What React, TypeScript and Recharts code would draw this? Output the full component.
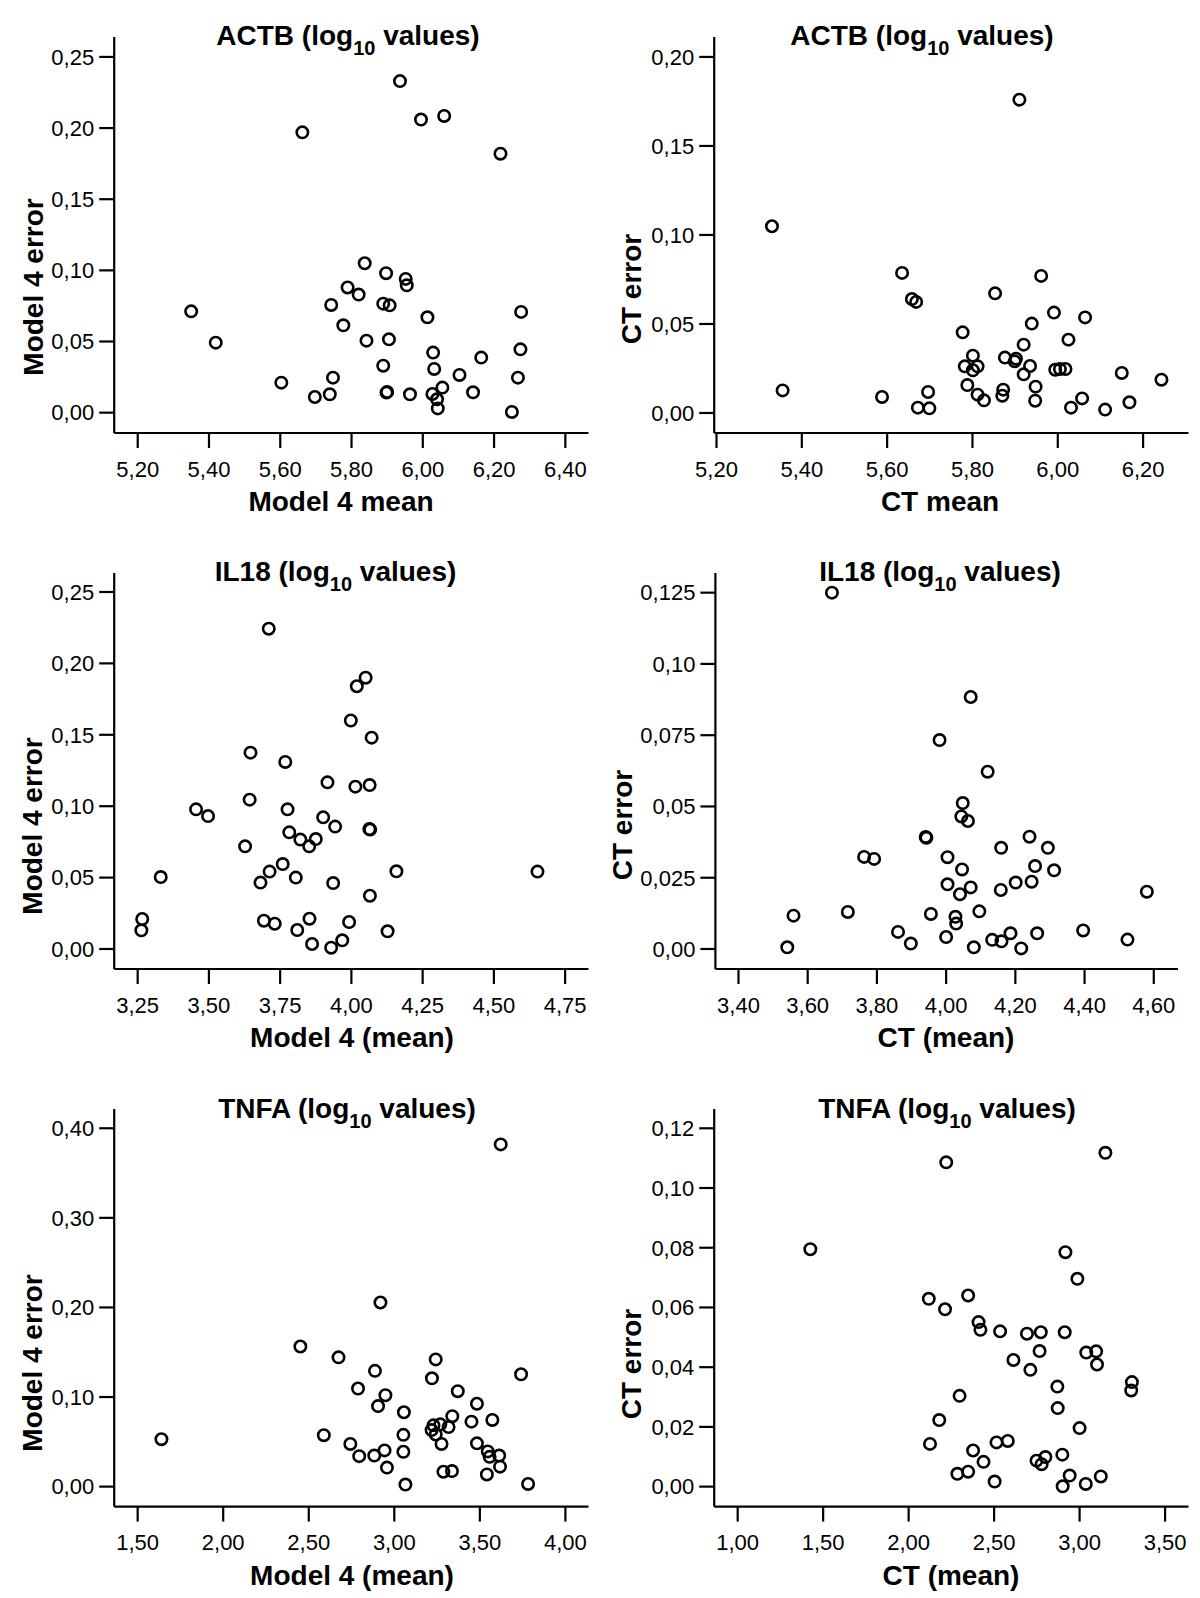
import React from 'react';
import { ScatterChart, Scatter, XAxis, YAxis } from 'recharts';

const FONT = '"Liberation Sans", Arial, Helvetica, sans-serif';

// ---------- ACTB : Model 4 ----------
const actbModel4Mean = [5.936, 5.995, 6.06, 5.662, 6.218, 5.837, 5.897, 5.952, 5.955, 5.789, 5.82, 5.743, 5.889, 5.907, 5.35, 6.276, 6.013, 5.777, 5.419, 5.842, 5.905, 6.274, 6.029, 6.164, 5.889, 6.032, 6.103, 5.748, 6.267, 5.603, 6.055, 6.141, 5.898, 5.9, 5.964, 5.739, 5.697, 6.027, 6.04, 6.042, 6.25];
const actbModel4Error = [0.233, 0.206, 0.2085, 0.197, 0.182, 0.105, 0.098, 0.094, 0.0895, 0.088, 0.083, 0.0757, 0.0766, 0.0754, 0.0712, 0.0708, 0.067, 0.0614, 0.0492, 0.0506, 0.0515, 0.0445, 0.0422, 0.0387, 0.033, 0.0307, 0.0265, 0.0246, 0.0246, 0.0211, 0.0176, 0.0143, 0.0141, 0.0146, 0.0129, 0.0129, 0.011, 0.0131, 0.0094, 0.003, 0.0005];

// ---------- ACTB : CT ----------
const actbCtMean = [5.91, 5.33, 5.635, 5.961, 5.853, 5.658, 5.668, 5.991, 6.064, 5.939, 5.777, 6.025, 5.92, 5.801, 5.876, 5.902, 5.899, 5.782, 5.812, 5.935, 5.801, 5.994, 6.005, 6.018, 6.15, 5.92, 6.243, 5.788, 5.948, 5.355, 5.696, 5.872, 5.87, 5.812, 5.588, 6.057, 5.827, 5.947, 6.168, 5.672, 5.699, 6.031, 6.111];
const actbCtError = [0.176, 0.1049, 0.0787, 0.077, 0.0672, 0.064, 0.0624, 0.0564, 0.0537, 0.0502, 0.0453, 0.0412, 0.0384, 0.0322, 0.0311, 0.0305, 0.029, 0.0262, 0.0262, 0.0264, 0.024, 0.0243, 0.0247, 0.0247, 0.0225, 0.0217, 0.0187, 0.0157, 0.0148, 0.0127, 0.0118, 0.0131, 0.0097, 0.0103, 0.009, 0.0082, 0.0071, 0.0069, 0.006, 0.003, 0.0026, 0.003, 0.0019];

// ---------- IL18 : Model 4 ----------
const il18Model4Mean = [3.71, 4.05, 4.019, 3.998, 4.071, 3.646, 3.768, 3.916, 4.014, 4.064, 3.643, 3.455, 3.497, 3.776, 3.901, 3.943, 4.063, 4.066, 3.782, 3.821, 3.875, 3.852, 3.627, 3.759, 3.713, 4.158, 4.653, 3.331, 3.805, 3.681, 3.936, 4.065, 3.266, 3.263, 3.853, 3.693, 3.731, 3.992, 3.81, 4.127, 3.968, 3.862, 3.929];
const il18Model4Error = [0.2243, 0.19, 0.184, 0.16, 0.148, 0.1375, 0.131, 0.1167, 0.1137, 0.1148, 0.1046, 0.0978, 0.0931, 0.0978, 0.0922, 0.0857, 0.084, 0.0836, 0.0817, 0.0766, 0.077, 0.0719, 0.0719, 0.0595, 0.0542, 0.0544, 0.0542, 0.0504, 0.05, 0.0465, 0.0462, 0.0373, 0.021, 0.0131, 0.0212, 0.0198, 0.0177, 0.0189, 0.0133, 0.0124, 0.0061, 0.0035, 0.0009];

// ---------- IL18 : CT ----------
const il18CtMean = [3.67, 4.071, 3.981, 4.12, 4.048, 4.044, 4.063, 3.941, 3.943, 4.241, 4.159, 4.294, 3.763, 3.792, 4.004, 4.046, 4.257, 4.312, 4.004, 4.201, 4.247, 4.071, 4.158, 4.04, 4.58, 3.559, 3.716, 3.956, 4.096, 4.027, 4.029, 3.861, 4.396, 4.186, 4.263, 4.0, 4.133, 4.16, 4.524, 3.898, 3.541, 4.08, 4.217];
const il18CtError = [0.125, 0.0884, 0.0733, 0.0622, 0.0512, 0.0465, 0.0449, 0.0393, 0.039, 0.0394, 0.0355, 0.0355, 0.0323, 0.0316, 0.0322, 0.0279, 0.0291, 0.0276, 0.0227, 0.0233, 0.0236, 0.0216, 0.0207, 0.0192, 0.0201, 0.0117, 0.013, 0.0123, 0.0132, 0.0113, 0.0089, 0.006, 0.0065, 0.0055, 0.0055, 0.0042, 0.0032, 0.0027, 0.0033, 0.0019, 0.0006, 0.0006, 0.0002];

// ---------- TNFA : Model 4 ----------
const tnfaModel4Mean = [3.622, 2.919, 2.451, 2.674, 3.242, 2.887, 3.741, 3.22, 2.788, 3.371, 2.948, 3.483, 2.905, 3.056, 3.339, 3.573, 3.451, 3.229, 3.269, 3.317, 3.218, 3.242, 2.588, 3.053, 1.639, 2.743, 3.276, 3.483, 3.546, 2.943, 3.053, 2.795, 2.883, 3.613, 3.557, 3.618, 2.957, 3.287, 3.337, 3.541, 3.065, 3.782];
const tnfaModel4Error = [0.382, 0.2055, 0.1564, 0.1443, 0.142, 0.1292, 0.1254, 0.1209, 0.1095, 0.1065, 0.102, 0.0925, 0.0899, 0.083, 0.0786, 0.0744, 0.0725, 0.0684, 0.0695, 0.0665, 0.0631, 0.0582, 0.0574, 0.0578, 0.0529, 0.0476, 0.0476, 0.0483, 0.0393, 0.0404, 0.0389, 0.034, 0.0347, 0.0347, 0.0332, 0.0223, 0.0212, 0.0166, 0.0174, 0.0136, 0.0023, 0.003];

// ---------- TNFA : CT ----------
const tnfaCtMean = [3.151, 2.22, 1.425, 2.917, 2.987, 2.348, 2.118, 2.213, 2.409, 2.42, 2.535, 2.692, 2.773, 2.913, 2.766, 3.039, 3.097, 2.613, 3.102, 2.712, 3.306, 3.302, 2.87, 2.298, 2.872, 2.179, 3.0, 2.58, 2.514, 2.125, 2.377, 2.899, 2.8, 2.748, 2.778, 2.438, 2.348, 2.285, 2.942, 3.124, 2.503, 3.036, 2.901];
const tnfaCtError = [0.1118, 0.1086, 0.0795, 0.0785, 0.0696, 0.064, 0.0629, 0.0594, 0.0551, 0.0525, 0.052, 0.0512, 0.0517, 0.0517, 0.0454, 0.0449, 0.0453, 0.0424, 0.0409, 0.0391, 0.035, 0.0322, 0.0335, 0.0304, 0.0263, 0.0223, 0.0196, 0.0153, 0.0148, 0.0143, 0.0121, 0.0107, 0.0099, 0.0087, 0.0075, 0.0083, 0.005, 0.0043, 0.0037, 0.0034, 0.0017, 0.0009, 0.0001];

// ---------- Tick values and labels ----------
const actbModelXTicks = [5.2, 5.4, 5.6, 5.8, 6.0, 6.2, 6.4];
const actbModelXLabels = ['5,20', '5,40', '5,60', '5,80', '6,00', '6,20', '6,40'];
const actbModelYTicks = [0, 0.05, 0.1, 0.15, 0.2, 0.25];
const actbModelYLabels = ['0,00', '0,05', '0,10', '0,15', '0,20', '0,25'];

const actbCtXTicks = [5.2, 5.4, 5.6, 5.8, 6.0, 6.2];
const actbCtXLabels = ['5,20', '5,40', '5,60', '5,80', '6,00', '6,20'];
const actbCtYTicks = [0, 0.05, 0.1, 0.15, 0.2];
const actbCtYLabels = ['0,00', '0,05', '0,10', '0,15', '0,20'];

const il18ModelXTicks = [3.25, 3.5, 3.75, 4.0, 4.25, 4.5, 4.75];
const il18ModelXLabels = ['3,25', '3,50', '3,75', '4,00', '4,25', '4,50', '4,75'];
const il18ModelYTicks = [0, 0.05, 0.1, 0.15, 0.2, 0.25];
const il18ModelYLabels = ['0,00', '0,05', '0,10', '0,15', '0,20', '0,25'];

const il18CtXTicks = [3.4, 3.6, 3.8, 4.0, 4.2, 4.4, 4.6];
const il18CtXLabels = ['3,40', '3,60', '3,80', '4,00', '4,20', '4,40', '4,60'];
const il18CtYTicks = [0, 0.025, 0.05, 0.075, 0.1, 0.125];
const il18CtYLabels = ['0,00', '0,025', '0,05', '0,075', '0,10', '0,125'];

const tnfaModelXTicks = [1.5, 2.0, 2.5, 3.0, 3.5, 4.0];
const tnfaModelXLabels = ['1,50', '2,00', '2,50', '3,00', '3,50', '4,00'];
const tnfaModelYTicks = [0, 0.1, 0.2, 0.3, 0.4];
const tnfaModelYLabels = ['0,00', '0,10', '0,20', '0,30', '0,40'];

const tnfaCtXTicks = [1.0, 1.5, 2.0, 2.5, 3.0, 3.5];
const tnfaCtXLabels = ['1,00', '1,50', '2,00', '2,50', '3,00', '3,50'];
const tnfaCtYTicks = [0, 0.02, 0.04, 0.06, 0.08, 0.1, 0.12];
const tnfaCtYLabels = ['0,00', '0,02', '0,04', '0,06', '0,08', '0,10', '0,12'];

type Panel = {
  gene: string;
  xLabel: string;
  yLabel: string;
  xs: number[];
  ys: number[];
  xDomain: [number, number];
  yDomain: [number, number];
  xTicks: number[];
  xTickLabels: string[];
  yTicks: number[];
  yTickLabels: string[];
  ox: number; // panel origin x
  L: number; T: number; R: number; B: number; // plot rect (page px)
  titleX: number;
  xLabelX: number;
  yLabelX: number;
  yLabelY: number;
};

const panels: Panel[] = [
  {
    gene: 'ACTB', xLabel: 'Model 4 mean', yLabel: 'Model 4 error',
    xs: actbModel4Mean, ys: actbModel4Error,
    xDomain: [5.134, 6.465], yDomain: [-0.0143, 0.264],
    xTicks: actbModelXTicks, xTickLabels: actbModelXLabels, yTicks: actbModelYTicks, yTickLabels: actbModelYLabels,
    ox: 0, L: 114.2, T: 36.7, R: 588.5, B: 432.7,
    titleX: 348, xLabelX: 341, yLabelX: 43, yLabelY: 287,
  },
  {
    gene: 'ACTB', xLabel: 'CT mean', yLabel: 'CT error',
    xs: actbCtMean, ys: actbCtError,
    xDomain: [5.1946, 6.3064], yDomain: [-0.01124, 0.2112],
    xTicks: actbCtXTicks, xTickLabels: actbCtXLabels, yTicks: actbCtYTicks, yTickLabels: actbCtYLabels,
    ox: 600, L: 714.2, T: 36.7, R: 1188.5, B: 432.7,
    titleX: 922, xLabelX: 940, yLabelX: 641, yLabelY: 289,
  },
  {
    gene: 'IL18', xLabel: 'Model 4 (mean)', yLabel: 'Model 4 error',
    xs: il18Model4Mean, ys: il18Model4Error,
    xDomain: [3.1677, 4.832], yDomain: [-0.014, 0.2633],
    xTicks: il18ModelXTicks, xTickLabels: il18ModelXLabels, yTicks: il18ModelYTicks, yTickLabels: il18ModelYLabels,
    ox: 0, L: 114.2, T: 572.7, R: 588.5, B: 968.7,
    titleX: 335.5, xLabelX: 352, yLabelX: 42, yLabelY: 826,
  },
  {
    gene: 'IL18', xLabel: 'CT (mean)', yLabel: 'CT error',
    xs: il18CtMean, ys: il18CtError,
    xDomain: [3.3333, 4.67], yDomain: [-0.00702, 0.1319],
    xTicks: il18CtXTicks, xTickLabels: il18CtXLabels, yTicks: il18CtYTicks, yTickLabels: il18CtYLabels,
    ox: 600, L: 715.4, T: 572.7, R: 1178, B: 968.7,
    titleX: 940, xLabelX: 946, yLabelX: 632, yLabelY: 825,
  },
  {
    gene: 'TNFA', xLabel: 'Model 4 (mean)', yLabel: 'Model 4 error',
    xs: tnfaModel4Mean, ys: tnfaModel4Error,
    xDomain: [1.3629, 4.135], yDomain: [-0.0223, 0.4215],
    xTicks: tnfaModelXTicks, xTickLabels: tnfaModelXLabels, yTicks: tnfaModelYTicks, yTickLabels: tnfaModelYLabels,
    ox: 0, L: 114.2, T: 1108.9, R: 588.5, B: 1506.5,
    titleX: 347, xLabelX: 352, yLabelX: 42, yLabelY: 1363,
  },
  {
    gene: 'TNFA', xLabel: 'CT (mean)', yLabel: 'CT error',
    xs: tnfaCtMean, ys: tnfaCtError,
    xDomain: [0.8627, 3.637], yDomain: [-0.00669, 0.12646],
    xTicks: tnfaCtXTicks, xTickLabels: tnfaCtXLabels, yTicks: tnfaCtYTicks, yTickLabels: tnfaCtYLabels,
    ox: 600, L: 714.2, T: 1108.9, R: 1188.5, B: 1506.5,
    titleX: 947, xLabelX: 951, yLabelX: 641, yLabelY: 1364,
  },
];

const labelFor = (ticks: number[], labels: string[]) => (v: number) => {
  let best = 0;
  for (let i = 1; i < ticks.length; i++) {
    if (Math.abs(ticks[i] - v) < Math.abs(ticks[best] - v)) best = i;
  }
  return labels[best];
};

const Ring = (props: any) => {
  if (props.cx == null || props.cy == null) return null;
  return <circle cx={props.cx} cy={props.cy} r={5.7} fill="none" stroke="#000" strokeWidth={2.6} />;
};

const TOP_PAD = 40;
const BOTTOM_PAD = 110;
const X_AXIS_H = 60;

const PanelChart = ({ p }: { p: Panel }) => {
  const data = p.xs.map((x, i) => ({ x, y: p.ys[i] }));
  const height = p.B - p.T + TOP_PAD + BOTTOM_PAD;
  const tickStyle = { fill: '#000', fontSize: 22, fontFamily: FONT };
  const lineStyle = { stroke: '#000', strokeWidth: 2.2 };
  return (
    <div style={{ position: 'absolute', left: p.ox, top: p.T - TOP_PAD, width: 600, height }}>
      <ScatterChart
        width={600}
        height={height}
        margin={{ top: TOP_PAD, left: 0, right: 600 - (p.R - p.ox), bottom: BOTTOM_PAD - X_AXIS_H }}
      >
        <XAxis
          type="number"
          dataKey="x"
          domain={p.xDomain}
          ticks={p.xTicks}
          interval={0}
          allowDataOverflow
          height={X_AXIS_H}
          tickSize={15}
          tickMargin={13}
          axisLine={lineStyle}
          tickLine={lineStyle}
          tick={tickStyle}
          tickFormatter={labelFor(p.xTicks, p.xTickLabels)}
        />
        <YAxis
          type="number"
          dataKey="y"
          domain={p.yDomain}
          ticks={p.yTicks}
          interval={0}
          allowDataOverflow
          width={p.L - p.ox}
          tickSize={15}
          tickMargin={5}
          axisLine={lineStyle}
          tickLine={lineStyle}
          tick={tickStyle}
          tickFormatter={labelFor(p.yTicks, p.yTickLabels)}
        />
        <Scatter data={data} shape={Ring} isAnimationActive={false} />
      </ScatterChart>
    </div>
  );
};

const Texts = () => (
  <svg
    width={1200}
    height={1598}
    style={{ position: 'absolute', left: 0, top: 0, pointerEvents: 'none' }}
    fontFamily={FONT}
    fontWeight="bold"
    fill="#000"
  >
    {panels.map((p, i) => (
      <g key={i}>
        <text x={p.titleX} y={p.T + 8.7} textAnchor="middle" fontSize={28}>
          {p.gene} (log
          <tspan fontSize={20} dy={10}>10</tspan>
          <tspan dy={-10}> values)</tspan>
        </text>
        <text x={p.xLabelX} y={p.B + 78} textAnchor="middle" fontSize={28}>
          {p.xLabel}
        </text>
        <text
          transform={`translate(${p.yLabelX},${p.yLabelY}) rotate(-90)`}
          textAnchor="middle"
          fontSize={28}
        >
          {p.yLabel}
        </text>
      </g>
    ))}
  </svg>
);

export default function App() {
  return (
    <div style={{ position: 'absolute', left: 0, top: 0, width: 1200, height: 1598, background: '#fff' }}>
      {panels.map((p, i) => (
        <PanelChart key={i} p={p} />
      ))}
      <Texts />
    </div>
  );
}
